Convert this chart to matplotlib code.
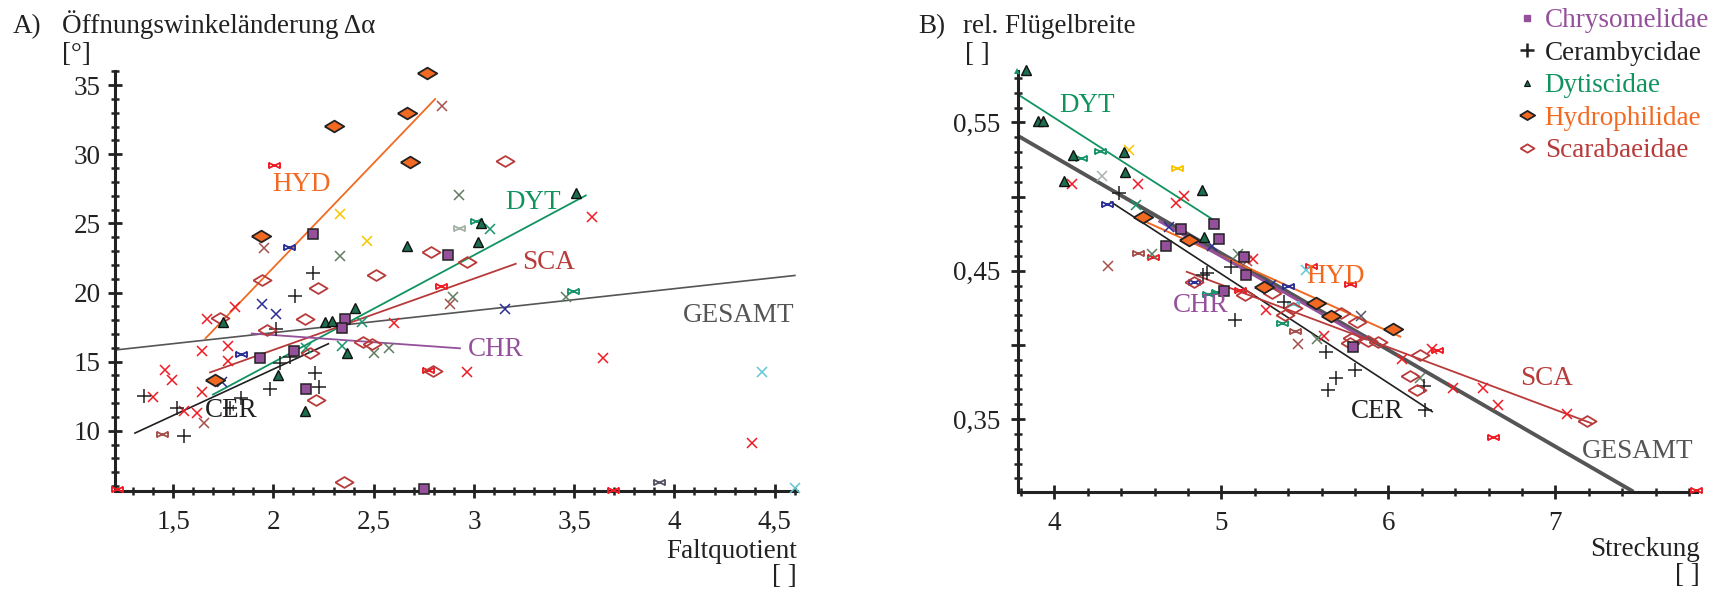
import numpy as np
import matplotlib
matplotlib.use("Agg")
import matplotlib.pyplot as plt
from matplotlib.lines import Line2D
from matplotlib.path import Path

FONT = ['Liberation Serif', 'DejaVu Serif']
plt.rcParams['font.family'] = FONT

# ---------------- panel A data (Faltquotient vs. Öffnungswinkeländerung) ----------------
a_chr = [(2.199, 24.23), (2.872, 22.71), (2.357, 18.08), (2.343, 17.41), (1.933, 15.28),
         (2.102, 15.79), (2.162, 13.0), (2.752, 5.77)]
a_cer = [(2.199, 21.38), (2.107, 19.74), (2.011, 17.36), (2.082, 15.36), (2.032, 14.88),
         (1.354, 12.51), (1.517, 11.62), (1.555, 9.62), (1.983, 13.0), (1.841, 12.35),
         (1.783, 11.67), (2.207, 14.2), (2.228, 13.19)]
a_dyt = [(2.667, 23.36), (3.507, 27.21), (3.035, 25.04), (3.021, 23.67), (1.75, 17.84),
         (2.257, 17.89), (2.29, 17.96), (2.406, 18.85), (2.368, 15.65), (2.024, 14.03),
         (2.157, 11.43)]
a_hyd = [(1.71, 13.67), (1.938, 24.08), (2.303, 32.06), (2.681, 29.45), (2.667, 32.95),
         (2.764, 35.9)]
a_sca = [(2.786, 22.95), (2.51, 21.24), (2.223, 20.3), (1.941, 20.9), (3.155, 29.53),
         (2.964, 22.18), (2.797, 14.32), (1.733, 18.13), (2.157, 18.08), (1.966, 17.28),
         (2.182, 15.6), (2.448, 16.44), (2.49, 16.25), (2.212, 12.22), (2.352, 6.32)]

# other families (unlabelled crosses)
a_red = [(3.59, 25.46), (3.645, 15.28), (2.964, 14.23), (4.388, 9.14), (1.667, 18.08),
         (1.811, 18.97), (2.603, 17.77), (1.775, 16.15), (1.642, 15.79), (1.775, 15.07),
         (1.459, 14.39), (1.495, 13.67), (1.642, 12.82), (1.40, 12.46), (1.555, 11.43),
         (1.617, 11.26)]
a_red_small = [(2.004, 29.2), (2.835, 20.47), (2.772, 14.39), (3.695, 5.72), (1.218, 5.77)]
a_blue = [(3.155, 18.8), (1.944, 19.14), (2.011, 18.44), (1.742, 13.55)]
a_blue_small = [(2.079, 23.27), (1.841, 15.55)]
a_yellow = [(2.332, 25.65), (2.465, 23.72)]
a_olive = [(2.332, 22.64), (2.925, 27.05), (2.894, 19.69), (3.457, 19.69), (2.502, 15.65),
           (2.578, 15.96)]
a_green = [(3.08, 24.57), (2.443, 17.89), (2.34, 16.15), (2.162, 15.96)]
a_green_small = [(3.01, 25.19), (3.495, 20.13)]
a_lightgrey_small = [(2.925, 24.66)]
a_darkgrey_small = [(3.924, 6.27)]
a_brown = [(1.954, 23.19), (2.839, 33.5), (2.88, 19.14), (1.655, 10.54)]
a_brown_small = [(1.447, 9.77)]
a_cyan = [(4.438, 14.23), (4.60, 5.9)]

# regression lines (end points)
a_line_hyd = [(1.658, 16.63), (2.81, 34.04)]
a_line_dyt = [(1.695, 12.59), (3.562, 27.05)]
a_line_sca = [(1.68, 14.2), (3.213, 22.1)]
a_line_ges = [(1.21, 15.84), (4.605, 21.24)]
a_line_chr = [(1.888, 17.04), (2.935, 15.96)]
a_line_cer = [(1.306, 9.81), (2.278, 16.32)]

# ---------------- panel B data (Streckung vs. rel. Flügelbreite) ----------------
b_chr = [(4.958, 0.4817), (4.757, 0.4783), (4.986, 0.4714), (4.669, 0.4669), (5.138, 0.4596),
         (5.146, 0.4473), (5.018, 0.4365), (5.787, 0.3983)]
b_cer = [(4.389, 0.5024), (5.058, 0.4522), (4.912, 0.4484), (4.89, 0.447), (5.377, 0.4289),
         (5.082, 0.417), (5.627, 0.3954), (5.80, 0.3832), (5.687, 0.3776), (5.637, 0.3693),
         (6.21, 0.372), (6.22, 0.3563)]
b_dyt = [(3.829, 0.5855), (3.90, 0.5507), (3.93, 0.5507), (4.114, 0.5282),
         (4.419, 0.5298), (4.423, 0.5166), (4.058, 0.5107), (4.886, 0.5046), (4.898, 0.4725)]
b_dyt_small = [(3.775, 0.585)]
b_hyd = [(4.529, 0.4862), (4.807, 0.4709), (5.257, 0.439), (5.567, 0.4282), (5.657, 0.4192),
         (6.026, 0.4107)]
b_sca = [(4.838, 0.4421), (5.30, 0.435), (5.142, 0.4338), (5.381, 0.4203), (5.431, 0.4248),
         (5.715, 0.4215), (5.811, 0.4151), (5.781, 0.4046), (5.767, 0.4012), (5.877, 0.4028),
         (5.94, 0.4019), (6.186, 0.3929), (6.13, 0.3787), (6.17, 0.3698), (7.188, 0.349)]

b_red = [(4.108, 0.5087), (4.499, 0.5087), (4.777, 0.5006), (4.727, 0.4956), (5.186, 0.4579),
         (5.268, 0.4237), (5.615, 0.4057), (6.26, 0.3974), (6.084, 0.3907), (6.389, 0.3709),
         (6.565, 0.3709), (6.659, 0.3596), (7.068, 0.3534)]
b_red_small = [(4.593, 0.459), (5.112, 0.4372), (5.537, 0.4534), (5.767, 0.4412), (6.29, 0.3963),
               (6.629, 0.3379), (7.843, 0.3019)]
b_blue = [(4.683, 0.4792), (4.943, 0.4664), (5.298, 0.4401)]
b_blue_small = [(4.314, 0.495), (5.401, 0.4394), (4.838, 0.4421)]
b_yellow = [(4.449, 0.5316)]
b_yellow_small = [(4.733, 0.5192)]
b_green = [(4.487, 0.494)]
b_green_small = [(4.158, 0.526), (4.27, 0.5309), (4.922, 0.4343), (4.972, 0.4356), (5.365, 0.4147)]
b_olive = [(4.587, 0.4615), (5.098, 0.4613), (5.571, 0.4039), (6.186, 0.3776)]
b_lightgrey = [(4.284, 0.5136)]
b_brown = [(4.323, 0.4529), (5.152, 0.4563), (5.457, 0.4008)]
b_brown_small = [(4.499, 0.4619), (5.441, 0.4095)]
b_cyan = [(5.507, 0.4502)]
b_cyan_small = [(5.431, 0.4277)]
b_darkgrey = [(5.837, 0.4192)]

b_line_ges = [(3.784, 0.5408), (7.467, 0.301)]
b_line_dyt = [(3.784, 0.5687), (4.956, 0.484)]
b_line_cer = [(4.334, 0.4967), (6.266, 0.3547)]
b_line_hyd = [(4.533, 0.4837), (6.076, 0.4053)]
b_line_chr = [(4.623, 0.4837), (5.872, 0.4035)]
b_line_sca = [(4.787, 0.4495), (7.224, 0.3468)]

legend_names = ["Chrysomelidae", "Cerambycidae", "Dytiscidae", "Hydrophilidae", "Scarabaeidae"]

# ---------------- styles ----------------
C_CHR = "#94509a"
C_CER = "#202020"
C_DYT = "#11935f"
C_DYT_FILL = "#1d6e4e"
C_HYD = "#f26a22"
C_SCA = "#b83a3a"
C_GES = "#555555"
C_RED = "#ee1c25"
C_BLUE = "#2b2f96"
C_YELLOW = "#f7c600"
C_OLIVE = "#5f7d63"
C_GREEN = "#17946a"
C_LGREY = "#a8b4a8"
C_DGREY = "#555566"
C_BROWN = "#a6504c"
C_CYAN = "#5fc8d2"

DIAMOND = [(-1, 0), (0, 0.6), (1, 0), (0, -0.6), (-1, 0)]
BOWTIE = Path([(-1, -0.45), (1, 0.45), (-1, 0.45), (1, -0.45), (-1, -0.55), (-1, 0.55),
               (1, -0.55), (1, 0.55)],
              [Path.MOVETO, Path.LINETO, Path.MOVETO, Path.LINETO,
               Path.MOVETO, Path.LINETO, Path.MOVETO, Path.LINETO])


def pts(ax, pairs, **kw):
    xs, ys = zip(*pairs)
    ax.plot(xs, ys, ls="none", clip_on=False, **kw)


def seg(ax, pair, **kw):
    xs, ys = zip(*pair)
    ax.plot(xs, ys, solid_capstyle="butt", **kw)


def family_points(ax, chr_, cer, dyt, hyd, sca):
    pts(ax, cer, marker="+", ms=10, mew=1.1, color=C_CER, zorder=4)
    pts(ax, sca, marker=DIAMOND, ms=13, mew=1.3, mfc="none", mec=C_SCA, zorder=4)
    pts(ax, chr_, marker="s", ms=7, mew=1.1, mfc=C_CHR, mec="#222222", zorder=5)
    pts(ax, dyt, marker="^", ms=6.5, mew=1.0, mfc=C_DYT_FILL, mec="#111111", zorder=5)
    pts(ax, hyd, marker=DIAMOND, ms=14, mew=1.3, mfc=C_HYD, mec="#222222", zorder=6)


def crosses(ax, pairs, color, small=False):
    if small:
        pts(ax, pairs, marker=BOWTIE, ms=8, mew=1.3, color=color, zorder=3)
    else:
        pts(ax, pairs, marker="x", ms=7, mew=1.1, color=color, zorder=3)


def style_axes(ax):
    for s in ("top", "right"):
        ax.spines[s].set_visible(False)
    for s in ("left", "bottom"):
        ax.spines[s].set_linewidth(2.2)
        ax.spines[s].set_color("#222222")
    ax.tick_params(which="major", direction="inout", length=10, width=2, labelsize=19.5,
                   colors="#222222")
    ax.tick_params(which="minor", direction="inout", length=6, width=1.8, colors="#222222")
    ax.tick_params(axis="x", pad=9)


def serif_ticks(ax):
    for lbl in ax.get_xticklabels() + ax.get_yticklabels():
        lbl.set_fontfamily(FONT)


fig = plt.figure(figsize=(17.13, 5.96), dpi=100)

# ================= panel A =================
axA = fig.add_axes([0.0671, 0.1767, 0.398, 0.7042])
axA.set_xlim(1.21, 4.61)
axA.set_ylim(5.67, 36.02)
style_axes(axA)
axA.tick_params(axis="y", pad=5)
axA.set_xticks([1.5, 2, 2.5, 3, 3.5, 4, 4.5])
axA.set_xticklabels(["1,5", "2", "2,5", "3", "3,5", "4", "4,5"])
axA.set_xticks(np.arange(1.3, 4.61, 0.1), minor=True)
axA.set_yticks([10, 15, 20, 25, 30, 35])
axA.set_yticklabels(["10", "15", "20", "25", "30", "35"])
axA.set_yticks(np.arange(6, 36.1, 1), minor=True)
serif_ticks(axA)

seg(axA, a_line_ges, color=C_GES, lw=1.2, zorder=2)
seg(axA, a_line_hyd, color=C_HYD, lw=1.3, zorder=2)
seg(axA, a_line_dyt, color=C_DYT, lw=1.3, zorder=2)
seg(axA, a_line_sca, color=C_SCA, lw=1.3, zorder=2)
seg(axA, a_line_chr, color=C_CHR, lw=1.3, zorder=2)
seg(axA, a_line_cer, color=C_CER, lw=1.2, zorder=2)

crosses(axA, a_red, C_RED)
crosses(axA, a_red_small, C_RED, small=True)
crosses(axA, a_blue, C_BLUE)
crosses(axA, a_blue_small, C_BLUE, small=True)
crosses(axA, a_yellow, C_YELLOW)
crosses(axA, a_olive, C_OLIVE)
crosses(axA, a_green, C_GREEN)
crosses(axA, a_green_small, C_GREEN, small=True)
crosses(axA, a_lightgrey_small, C_LGREY, small=True)
crosses(axA, a_darkgrey_small, C_DGREY, small=True)
crosses(axA, a_brown, C_BROWN)
crosses(axA, a_brown_small, C_BROWN, small=True)
crosses(axA, a_cyan, C_CYAN)
family_points(axA, a_chr, a_cer, a_dyt, a_hyd, a_sca)

lab = dict(fontsize=19.5, va="center", ha="left", zorder=7)
axA.text(1.993, 27.84, "HYD", color=C_HYD, **lab)
axA.text(3.155, 26.54, "DYT", color=C_DYT, **lab)
axA.text(3.24, 22.2, "SCA", color=C_SCA, **lab)
axA.text(4.04, 18.37, "GESAMT", color=C_GES, **lab)
axA.text(2.97, 15.91, "CHR", color=C_CHR, **lab)
axA.text(1.658, 11.5, "CER", color=C_CER, **lab)

# ================= panel B =================
axB = fig.add_axes([0.5945, 0.175, 0.396, 0.7059])
axB.set_xlim(3.784, 7.846)
axB.set_ylim(0.301, 0.5847)
style_axes(axB)
axB.tick_params(axis="y", pad=8)
axB.set_xticks([4, 5, 6, 7])
axB.set_xticklabels(["4", "5", "6", "7"])
axB.set_xticks(np.arange(3.8, 7.85, 0.2), minor=True)
axB.set_yticks([0.35, 0.40, 0.45, 0.50, 0.55])
axB.set_yticklabels(["0,35", "", "0,45", "", "0,55"])
axB.set_yticks(np.arange(0.31, 0.585, 0.01), minor=True)
serif_ticks(axB)

seg(axB, b_line_ges, color=C_GES, lw=2.8, zorder=2)
seg(axB, b_line_dyt, color=C_DYT, lw=1.3, zorder=2)
seg(axB, b_line_cer, color=C_CER, lw=1.2, zorder=2)
seg(axB, b_line_hyd, color=C_HYD, lw=1.4, zorder=2)
seg(axB, b_line_chr, color=C_CHR, lw=2.0, zorder=2)
seg(axB, b_line_sca, color=C_SCA, lw=1.3, zorder=2)

crosses(axB, b_red, C_RED)
crosses(axB, b_red_small, C_RED, small=True)
crosses(axB, b_blue, C_BLUE)
crosses(axB, b_blue_small, C_BLUE, small=True)
crosses(axB, b_yellow, C_YELLOW)
crosses(axB, b_yellow_small, C_YELLOW, small=True)
crosses(axB, b_green, C_GREEN)
crosses(axB, b_green_small, C_GREEN, small=True)
crosses(axB, b_olive, C_OLIVE)
crosses(axB, b_lightgrey, C_LGREY)
crosses(axB, b_brown, C_BROWN)
crosses(axB, b_brown_small, C_BROWN, small=True)
crosses(axB, b_cyan, C_CYAN)
crosses(axB, b_cyan_small, C_CYAN, small=True)
crosses(axB, b_darkgrey, C_DGREY)
family_points(axB, b_chr, b_cer, b_dyt, b_hyd, b_sca)
pts(axB, b_dyt_small, marker="^", ms=4, mew=0, color=C_DYT, zorder=5)

axB.text(4.028, 0.5613, "DYT", color=C_DYT, **lab)
axB.text(5.507, 0.446, "HYD", color=C_HYD, **lab)
axB.text(4.711, 0.4264, "CHR", color=C_CHR, **lab)
axB.text(6.789, 0.3772, "SCA", color=C_SCA, **lab)
axB.text(5.777, 0.3549, "CER", color=C_CER, **lab)
axB.text(7.16, 0.328, "GESAMT", color=C_GES, **lab)

# ================= axis titles =================
W, H = 1713.0, 596.0
t = dict(fontsize=19.5, color="#222222", va="baseline")
fig.text(13 / W, 1 - 33 / H, "A)", ha="left", **t)
fig.text(62 / W, 1 - 33 / H, "Öffnungswinkeländerung Δα", ha="left", **t)
fig.text(62 / W, 1 - 61 / H, "[°]", ha="left", **t)
fig.text(797 / W, 1 - 558 / H, "Faltquotient", ha="right", **t)
fig.text(797 / W, 1 - 583 / H, "[ ]", ha="right", **t)

fig.text(918 / W, 1 - 33 / H, "B)", ha="left", **t)
fig.text(963 / W, 1 - 33 / H, "rel. Flügelbreite", ha="left", **t)
fig.text(965 / W, 1 - 61 / H, "[ ]", ha="left", **t)
fig.text(1700 / W, 1 - 556 / H, "Streckung", ha="right", **t)
fig.text(1700 / W, 1 - 582 / H, "[ ]", ha="right", **t)

# ================= legend =================
handles = [
    Line2D([], [], ls="none", marker="s", ms=5, mfc=C_CHR, mec=C_CHR),
    Line2D([], [], ls="none", marker="+", ms=10, mew=1.8, color=C_CER),
    Line2D([], [], ls="none", marker="^", ms=5, mfc=C_DYT_FILL, mec="#111111", mew=0.8),
    Line2D([], [], ls="none", marker=DIAMOND, ms=11, mfc=C_HYD, mec="#222222", mew=1.3),
    Line2D([], [], ls="none", marker=DIAMOND, ms=10, mfc="none", mec=C_SCA, mew=1.3),
]
leg = fig.legend(handles, legend_names, loc="upper left", bbox_to_anchor=(1519 / W, 1 - 8 / H),
                 frameon=False, fontsize=19.5, handlelength=0.6, handletextpad=0.35,
                 labelspacing=0.28, borderpad=0, borderaxespad=0)
for txt, col in zip(leg.get_texts(), [C_CHR, C_CER, C_DYT, C_HYD, C_SCA]):
    txt.set_color(col)

fig.savefig("out.png", dpi=100)
